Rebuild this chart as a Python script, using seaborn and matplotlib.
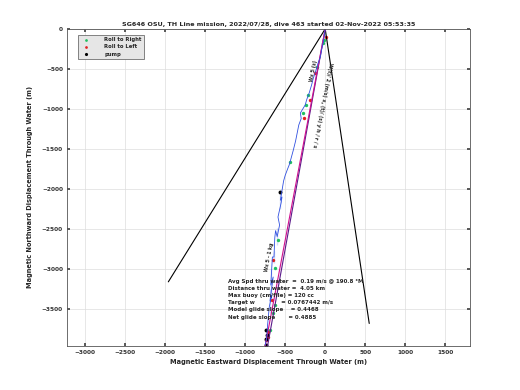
import numpy as np
import pandas as pd
import seaborn as sns
import matplotlib.pyplot as plt

# glider track through water (m)
track_x = [0, -20, -45, -60, -90, -110, -150, -170, -200, -230, -250, -310, -300, -330,
           -350, -370, -400, -430, -450, -470, -500, -520, -560, -540, -550, -560, -590,
           -570, -600, -620, -630, -600, -640, -660, -640, -680, -650, -690, -670, -680,
           -700, -690, -720, -730, -750]
track_y = [0, -150, -260, -350, -430, -500, -620, -700, -800, -880, -950, -1050, -1120, -1200,
           -1300, -1400, -1520, -1630, -1700, -1750, -1830, -1900, -2030, -2100, -2170, -2250,
           -2350, -2450, -2490, -2520, -2610, -2700, -2780, -2850, -2920, -3000, -3100, -3250,
           -3330, -3400, -3480, -3550, -3700, -3850, -3950]

# straight-line model tracks
model_x = [0, -750]
model_y = [0, -3960]
net_x = [0, -720]
net_y = [0, -3960]

# heading cone lines
cone_left_x = [0, -1960]
cone_left_y = [0, -3160]
cone_right_x = [0, 550]
cone_right_y = [0, -3680]

# markers
right_x = [-10, -25, -100, -210, -240, -275, -440, -590, -625, -625, -650, -690]
right_y = [-140, -170, -480, -825, -950, -1050, -1660, -2640, -2990, -3450, -3550, -3760]
left_x = [5, -125, -190, -260, -650, -660, -710, -720, -740]
left_y = [-100, -550, -890, -1110, -2890, -3390, -3790, -3850, -3890]
pump_x = [-560, -740, -730, -745, -735]
pump_y = [-2040, -3880, -3820, -3950, -3760]

info_lines = [
    "Avg Spd thru water  =  0.19 m/s @ 190.8 °M",
    "Distance thru water =  4.05 km",
    "Max buoy (cm/file) = 120 cc",
    "Target w              = 0.0767442 m/s",
    "Model glide slope    = 0.4468",
    "Net glide slope       = 0.4885",
]

sns.set_theme(style="whitegrid")
plt.rcParams['font.family'] = ['DejaVu Sans']

fig = plt.figure(figsize=(5.2, 3.9), dpi=100)
ax = fig.add_axes([0.129, 0.113, 0.775, 0.813])

sns.lineplot(x=cone_left_x, y=cone_left_y, ax=ax, color='black', lw=0.8, sort=False)
sns.lineplot(x=cone_right_x, y=cone_right_y, ax=ax, color='black', lw=0.8, sort=False)
sns.lineplot(x=net_x, y=net_y, ax=ax, color='#5a1a8a', lw=0.8, sort=False)
sns.lineplot(x=model_x, y=model_y, ax=ax, color='#d0108f', lw=0.8, sort=False)
sns.lineplot(x=track_x, y=track_y, ax=ax, color='#3050e0', lw=0.6, sort=False)

sns.scatterplot(x=right_x, y=right_y, ax=ax, color='#20c060', s=6, linewidth=0,
                marker='o', label='Roll to Right')
sns.scatterplot(x=left_x, y=left_y, ax=ax, color='#e02020', s=6, linewidth=0,
                marker='o', label='Roll to Left')
sns.scatterplot(x=pump_x, y=pump_y, ax=ax, color='black', s=8, linewidth=0,
                marker='o', label='pump')

# rotated labels along track
ax.text(-150, -520, "Wx 5 (s)", rotation=79, fontsize=3.3, fontweight='bold',
        ha='center', va='center')
ax.text(-40, -950, "W(t)/ 2 (m/s) x, (t)/ (s) y h / r / s", rotation=-101, fontsize=3.5,
        fontweight='bold', ha='center', va='center')
ax.text(-700, -2850, "Wx 5 - 1 kg", rotation=79, fontsize=3.3, fontweight='bold',
        ha='center', va='center')

for i, line in enumerate(info_lines):
    ax.text(-1220, -3150 - i * 90, line, fontsize=4.0, fontweight='bold', va='center')

ax.set_xlim(-3225, 1810)
ax.set_ylim(-3960, 0)
ax.set_aspect('equal', adjustable='box')
ax.set_xticks(np.arange(-3000, 1501, 500))
ax.set_yticks(np.arange(-3500, 1, 500))
ax.tick_params(labelsize=4.2, direction='in', length=2, top=True, right=True,
               bottom=True, left=True, pad=3, color='#444444')
for lab in ax.get_xticklabels() + ax.get_yticklabels():
    lab.set_fontweight('bold')
    lab.set_color('#333333')
ax.grid(True, color='#dddddd', lw=0.5)
for sp in ax.spines.values():
    sp.set_color('#555555')
    sp.set_linewidth(0.6)

ax.set_xlabel('Magnetic Eastward Displacement Through Water (m)', fontsize=4.8,
              fontweight='bold', labelpad=3)
ax.set_ylabel('Magnetic Northward Displacement Through Water (m)', fontsize=4.8,
              fontweight='bold', labelpad=6)
ax.set_title('SG646 OSU, TH Line mission, 2022/07/28, dive 463 started 02-Nov-2022 05:53:35',
             fontsize=4.6, fontweight='bold', pad=2)

leg = ax.legend(loc='upper left', bbox_to_anchor=(0.02, 0.99), fontsize=3.8,
                frameon=True, facecolor='#e6e6e6', edgecolor='#555555', fancybox=False,
                markerscale=0.8, handletextpad=2.5, borderpad=0.5, labelspacing=0.4,
                prop={'weight': 'bold', 'size': 3.8})
leg.get_frame().set_linewidth(0.5)
leg.get_frame().set_alpha(1)

fig.savefig('out.png', dpi=100)
